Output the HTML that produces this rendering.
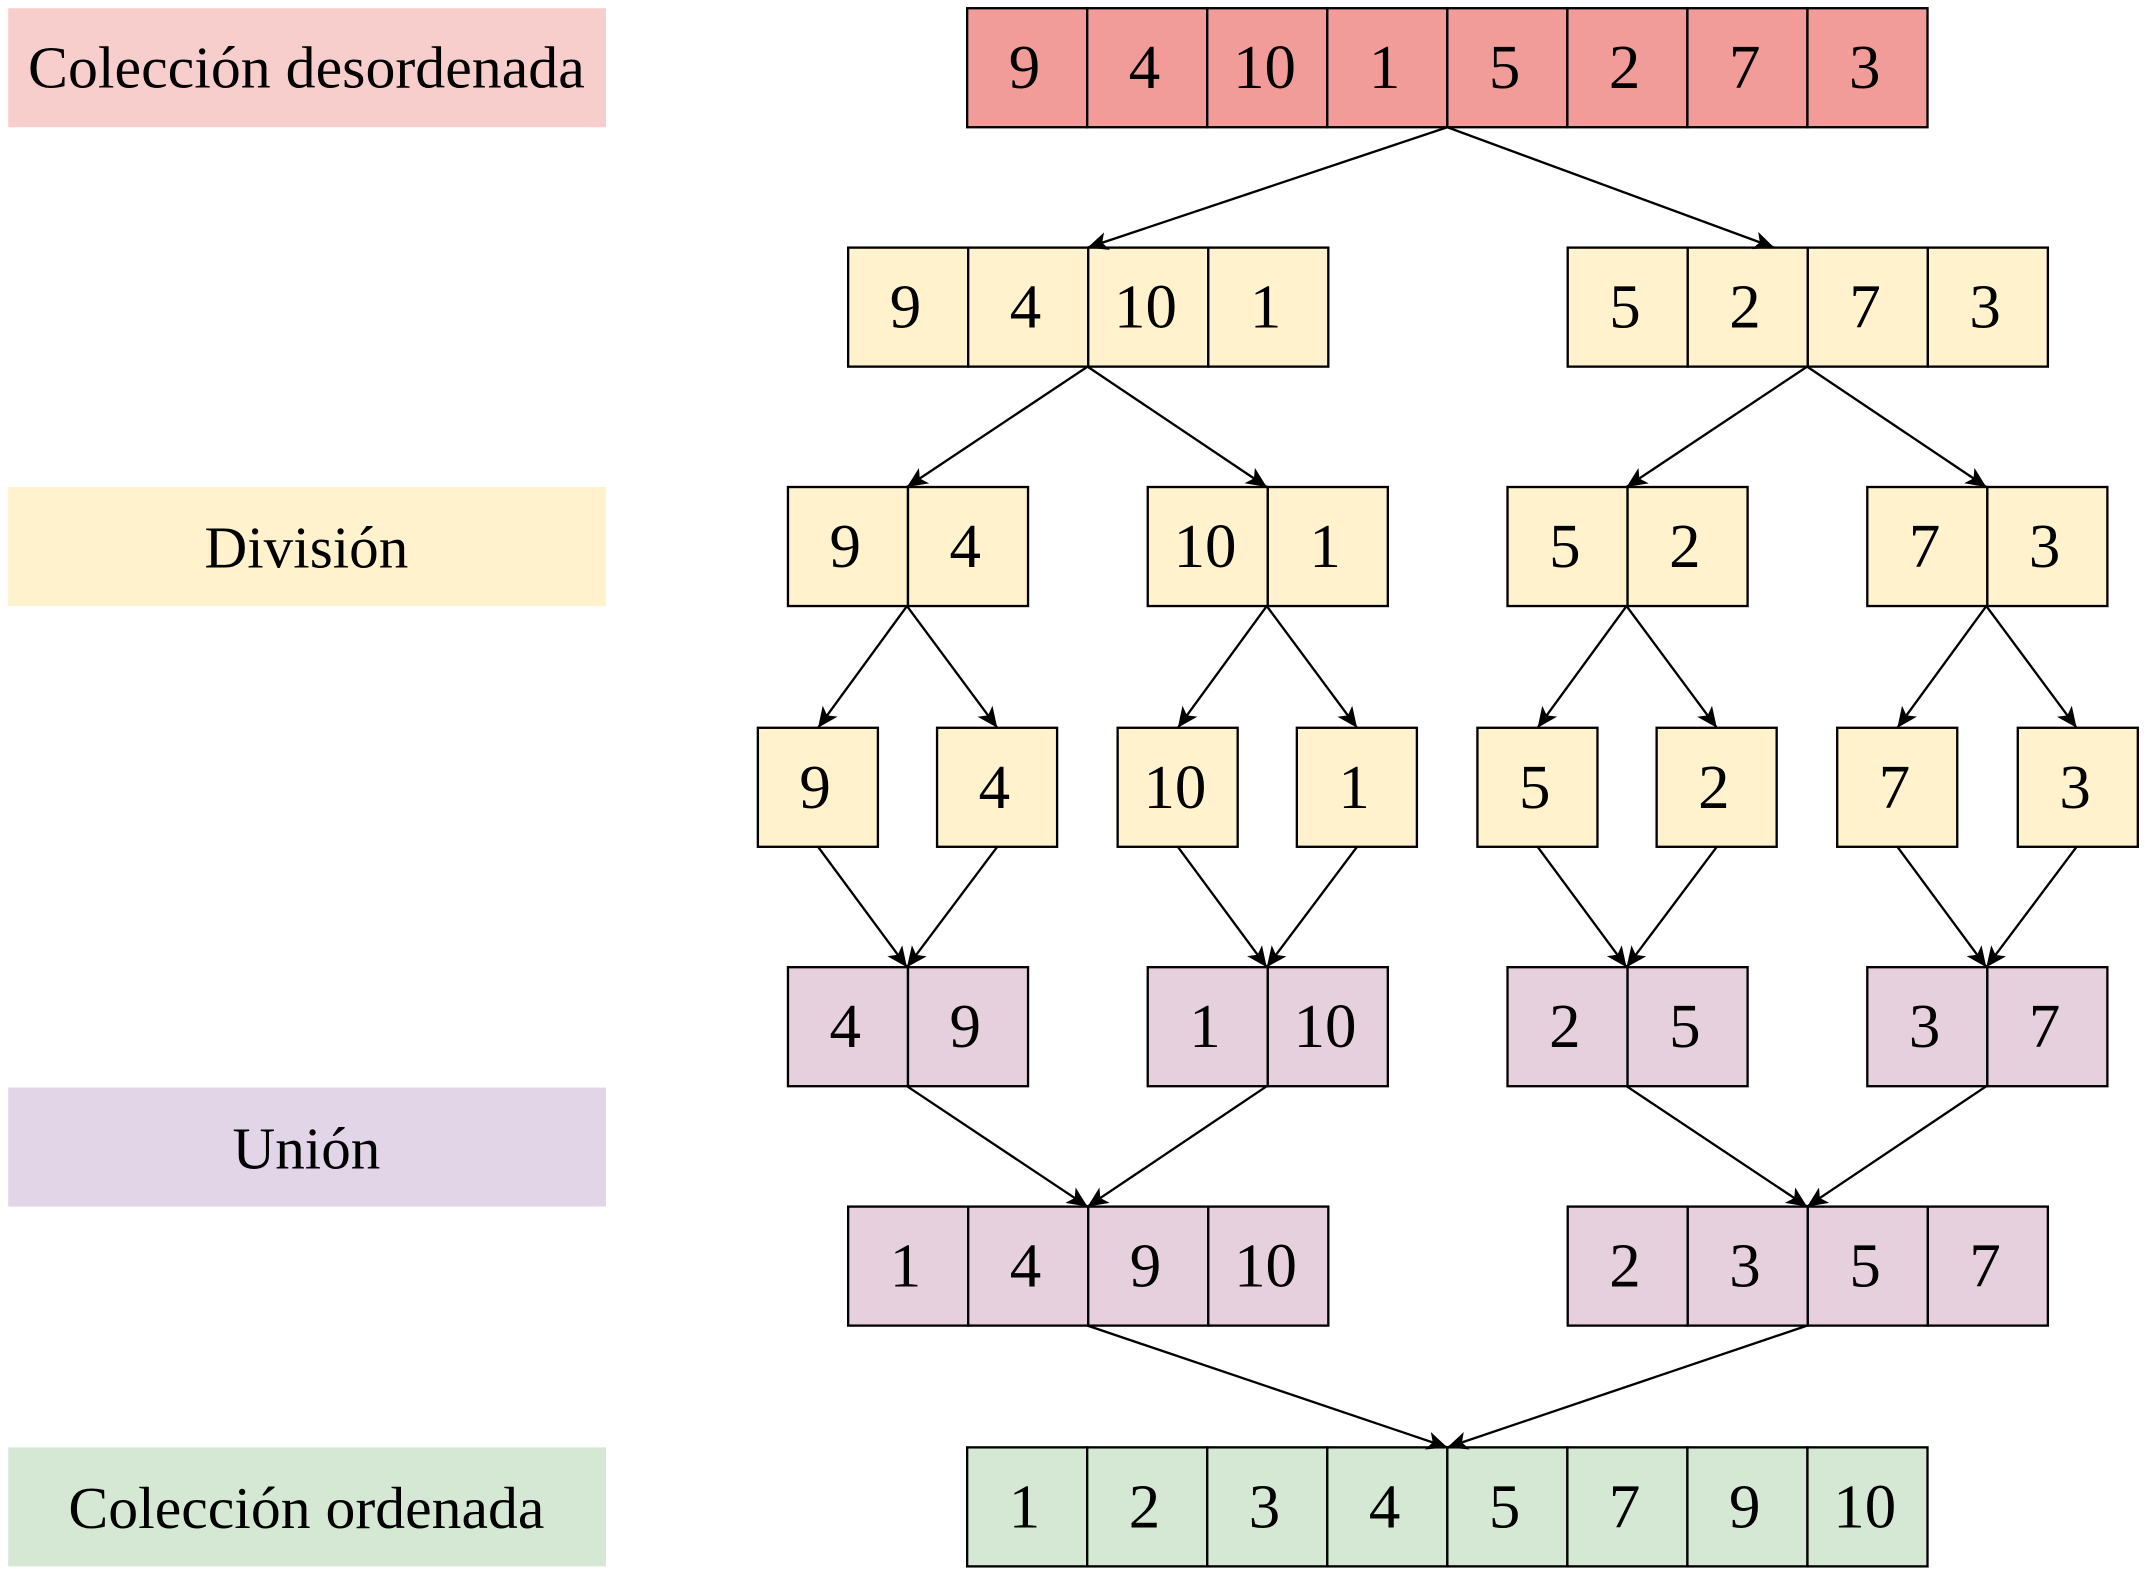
<!DOCTYPE html>
<html><head><meta charset="utf-8"><style>html,body{margin:0;padding:0;background:#fff}svg{display:block}</style></head>
<body>
<svg width="2145" height="1575" viewBox="0 0 1568 1151.3" preserveAspectRatio="none" xmlns="http://www.w3.org/2000/svg" font-family="Liberation Serif, serif">
<defs>
<marker id="a" viewBox="0 0 10 10" refX="10" refY="5" markerWidth="15" markerHeight="15" markerUnits="userSpaceOnUse" orient="auto">
<path d="M0,0.5 L10,5 L0,9.5 L2.5,5 Z" fill="#000"/>
</marker>
</defs>
<g font-size="43" text-anchor="middle">
<rect x="6" y="6" width="437" height="87" fill="#f8cecc"/>
<text x="224" y="64" textLength="407" lengthAdjust="spacingAndGlyphs">Colección desordenada</text>
<rect x="6" y="356" width="437" height="87" fill="#fff2cc"/>
<text x="224" y="415" textLength="149" lengthAdjust="spacingAndGlyphs">División</text>
<rect x="6" y="795" width="437" height="87" fill="#e1d5e7"/>
<text x="224" y="854" textLength="108" lengthAdjust="spacingAndGlyphs">Unión</text>
<rect x="6" y="1058" width="437" height="87" fill="#d5e8d4"/>
<text x="224" y="1117" textLength="348" lengthAdjust="spacingAndGlyphs">Colección ordenada</text>
</g>
<g id="cells" stroke="#000" stroke-width="1.7" font-size="46" text-anchor="middle"></g>
<g stroke="#000" stroke-width="1.7" fill="none" marker-end="url(#a)" id="arrows"></g>
<script>
var W=87.75,H=87;
var cells=document.getElementById('cells');
function row(x,y,vals,fill){vals.forEach(function(v,i){
 var r=document.createElementNS('http://www.w3.org/2000/svg','rect');
 r.setAttribute('x',x+i*W);r.setAttribute('y',y);r.setAttribute('width',W);r.setAttribute('height',H);r.setAttribute('fill',fill);cells.appendChild(r);
 var t=document.createElementNS('http://www.w3.org/2000/svg','text');
 t.setAttribute('x',x+i*W+W/2-2);t.setAttribute('y',y+H/2+15);t.setAttribute('stroke','none');t.setAttribute('fill','#000');t.textContent=v;cells.appendChild(t);});}
var R='#f19c99',Y='#fff2cc',P='#e6d0de',G='#d5e8d4';
row(707,6,[9,4,10,1,5,2,7,3],R);
row(620,181,[9,4,10,1],Y);row(1146,181,[5,2,7,3],Y);
row(576,356,[9,4],Y);row(839,356,[10,1],Y);row(1102,356,[5,2],Y);row(1365,356,[7,3],Y);
[[554,9],[685,4],[817,10],[948,1],[1080,5],[1211,2],[1343,7],[1475,3]].forEach(function(p){row(p[0],532,[p[1]],Y);});
row(576,707,[4,9],P);row(839,707,[1,10],P);row(1102,707,[2,5],P);row(1365,707,[3,7],P);
row(620,882,[1,4,9,10],P);row(1146,882,[2,3,5,7],P);
row(707,1058,[1,2,3,4,5,7,9,10],G);
var ar=document.getElementById('arrows');
function L(a,b,c,d){var l=document.createElementNS('http://www.w3.org/2000/svg','line');l.setAttribute('x1',a);l.setAttribute('y1',b);l.setAttribute('x2',c);l.setAttribute('y2',d);ar.appendChild(l);}
L(1058,93,795,181);L(1058,93,1297,181);
L(795,268,663,356);L(795,268,926,356);L(1321,268,1189,356);L(1321,268,1452,356);
[[663,598,729],[926,861,992],[1189,1124,1255],[1452,1387,1518]].forEach(function(q){
 L(q[0],443,q[1],532);L(q[0],443,q[2],532);L(q[1],619,q[0],707);L(q[2],619,q[0],707);});
L(663,794,795,882);L(926,794,795,882);L(1189,794,1321,882);L(1452,794,1321,882);
L(795,969,1058,1058);L(1321,969,1058,1058);
</script>
</svg>
</body></html>
